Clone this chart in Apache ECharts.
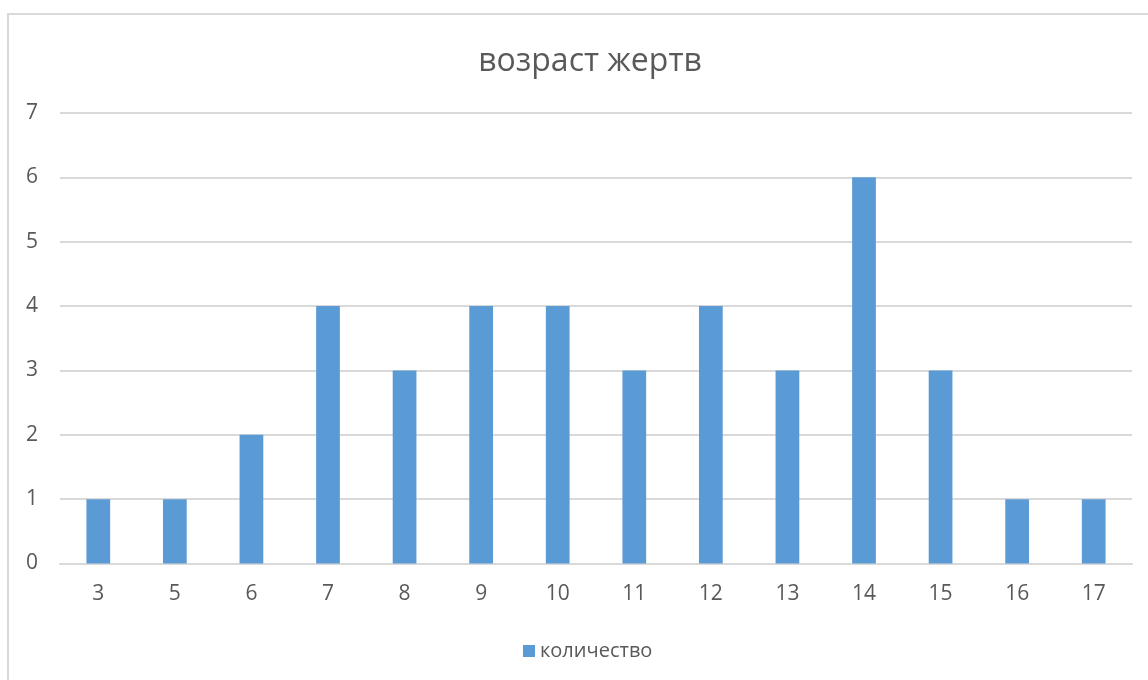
<!DOCTYPE html>
<html><head><meta charset="utf-8">
<script src="https://cdn.jsdelivr.net/npm/echarts@6/dist/echarts.min.js"></script>
<style>html,body{margin:0;padding:0;background:#fff}#c{width:1148px;height:680px}</style>
</head><body><div id="c"></div>
<script>
const categories = ['3','5','6','7','8','9','10','11','12','13','14','15','16','17'];
const counts = [1,1,2,4,3,4,4,3,4,3,6,3,1,1];
const yTicks = {min:0,max:7,interval:1};
const chart = echarts.init(document.getElementById('c'));
const font = 'Open Sans, Noto Sans, sans-serif';
chart.setOption({
  animation:false,
  graphic:[{type:'rect',shape:{x:8,y:14,width:1200,height:720},style:{fill:'none',stroke:'#d9d9d9',lineWidth:2},silent:true}],
  title:{text:'возраст жертв',left:585,textAlign:'center',top:41,textStyle:{fontFamily:font,fontSize:32,fontWeight:'normal',color:'#595959'}},
  legend:{data:['количество'],left:518,top:636,itemWidth:12,itemHeight:12,itemGap:9,icon:'rect',textStyle:{fontFamily:font,fontSize:20,color:'#595959'}},
  grid:{left:60,right:16,top:113,bottom:116.5,containLabel:false},
  xAxis:{type:'category',data:categories,axisLine:{lineStyle:{color:'#d9d9d9',width:2}},axisTick:{show:false},axisLabel:{fontFamily:font,fontSize:21,color:'#595959',margin:20}},
  yAxis:{type:'value',min:yTicks.min,max:yTicks.max,interval:yTicks.interval,axisLine:{show:false},axisTick:{show:false},splitLine:{lineStyle:{color:'#d9d9d9',width:2}},axisLabel:{fontFamily:font,fontSize:21,color:'#595959',margin:22}},
  series:[{name:'количество',type:'bar',data:counts,barWidth:'31%',itemStyle:{color:'#5b9bd5'}}]
});
</script></body></html>
